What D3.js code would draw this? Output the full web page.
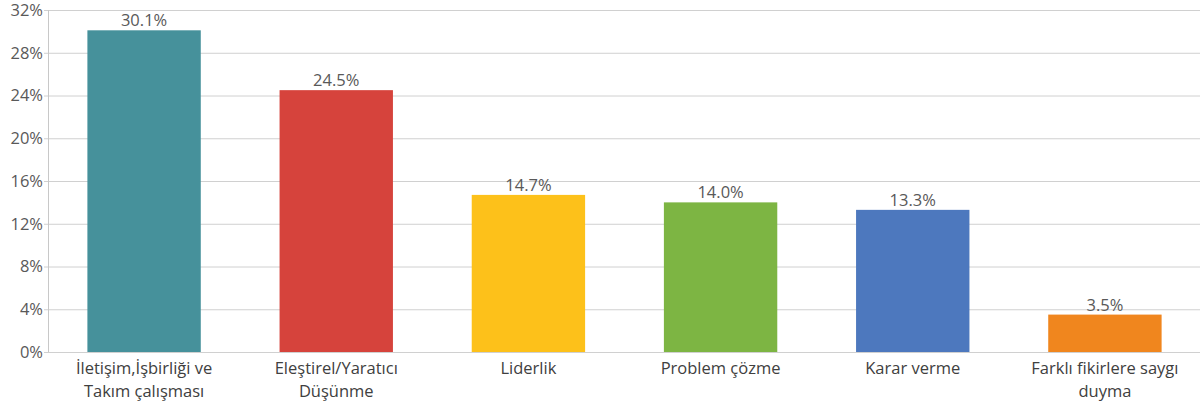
<!DOCTYPE html>
<html>
<head>
<meta charset="utf-8">
<script src="https://cdn.jsdelivr.net/npm/d3@7"></script>
<style>
body { margin: 0; background: #fff; }
text { font-family: "Open Sans", "Noto Sans", sans-serif; }
</style>
</head>
<body>
<script>
var categories = ["İletişim,İşbirliği ve|Takım çalışması", "Eleştirel/Yaratıcı|Düşünme", "Liderlik", "Problem çözme", "Karar verme", "Farklı fikirlere saygı|duyma"];
var values = [30.1, 24.5, 14.7, 14.0, 13.3, 3.5];
var colors = ["#46919b", "#d6433c", "#fdc11a", "#7db543", "#4d78be", "#f0861e"];
var yTicks = [0, 4, 8, 12, 16, 20, 24, 28, 32];

var w = 1200, h = 405;
var mLeft = 48, mRight = 1201, mTop = 10, mBottom = 352;

var svg = d3.select("body")
            .append("svg")
            .attr("width", w)
            .attr("height", h);

var x = d3.scaleBand()
    .domain(categories)
    .range([mLeft, mRight])
    .paddingInner(0.41)
    .paddingOuter(0.205);

var y = d3.scaleLinear()
    .domain([0, 32])
    .range([mBottom, mTop]);

// gridlines
svg.selectAll("line.grid")
    .data(yTicks)
    .enter()
    .append("line")
    .attr("x1", mLeft - 4)
    .attr("x2", w)
    .attr("y1", function(d) { return y(d) + 0.5; })
    .attr("y2", function(d) { return y(d) + 0.5; })
    .attr("stroke", "#d0d0d0")
    .attr("stroke-width", 1);

svg.append("line")
    .attr("x1", mLeft + 0.5).attr("x2", mLeft + 0.5)
    .attr("y1", mTop).attr("y2", mBottom)
    .attr("stroke", "#c8c8c8");

svg.selectAll("text.ytick")
    .data(yTicks)
    .enter()
    .append("text")
    .text(function(d) { return d + "%"; })
    .attr("x", mLeft - 5)
    .attr("y", function(d) { return y(d); })
    .attr("dy", "0.35em")
    .attr("text-anchor", "end")
    .attr("font-size", "16.5px")
    .attr("fill", "#595959");

svg.selectAll("rect")
    .data(values)
    .enter()
    .append("rect")
    .attr("x", function(d, i) { return x(categories[i]); })
    .attr("y", function(d) { return y(d); })
    .attr("width", x.bandwidth())
    .attr("height", function(d) { return mBottom - y(d); })
    .attr("fill", function(d, i) { return colors[i]; });

svg.selectAll("text.val")
    .data(values)
    .enter()
    .append("text")
    .text(function(d) { return d.toFixed(1) + "%"; })
    .attr("x", function(d, i) { return x(categories[i]) + x.bandwidth() / 2; })
    .attr("y", function(d) { return y(d) - 4; })
    .attr("text-anchor", "middle")
    .attr("font-size", "16.5px")
    .attr("fill", "#595959");

var labels = svg.selectAll("text.cat")
    .data(categories)
    .enter()
    .append("text")
    .attr("text-anchor", "middle")
    .attr("font-size", "16.5px")
    .attr("fill", "#404040");

labels.each(function(d) {
    var t = d3.select(this);
    var cx = x(d) + x.bandwidth() / 2;
    d.split("|").forEach(function(line, j) {
        t.append("tspan")
            .attr("x", cx)
            .attr("y", 374 + j * 23)
            .text(line);
    });
});
</script>
</body>
</html>
